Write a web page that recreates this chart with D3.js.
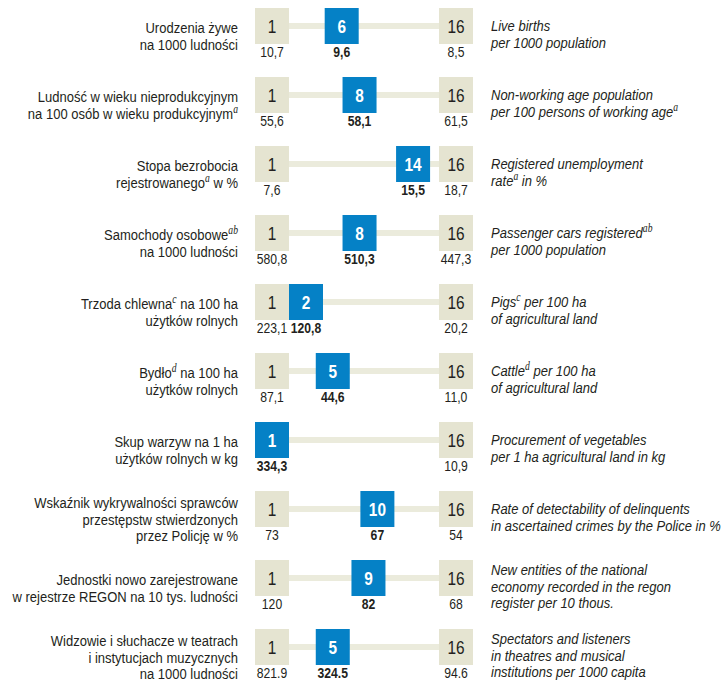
<!DOCTYPE html>
<html>
<head>
<meta charset="utf-8">
<script src="https://cdn.jsdelivr.net/npm/d3@7"></script>
<style>
  html, body { margin: 0; padding: 0; background: #ffffff; }
  svg { display: block; }
</style>
</head>
<body>
<svg id="chart" width="724" height="681"></svg>
<script>
// Indicators: Polish description (left) and English description (right).
// "{x}" marks a superscript footnote letter.
const labelsPL = [
  ["Urodzenia żywe", "na 1000 ludności"],
  ["Ludność w wieku nieprodukcyjnym", "na 100 osób w wieku produkcyjnym{a}"],
  ["Stopa bezrobocia", "rejestrowanego{a} w %"],
  ["Samochody osobowe{ab}", "na 1000 ludności"],
  ["Trzoda chlewna{c} na 100 ha", "użytków rolnych"],
  ["Bydło{d} na 100 ha", "użytków rolnych"],
  ["Skup warzyw na 1 ha", "użytków rolnych w kg"],
  ["Wskaźnik wykrywalności sprawców", "przestępstw stwierdzonych", "przez Policję w %"],
  ["Jednostki nowo zarejestrowane", "w rejestrze REGON na 10 tys. ludności"],
  ["Widzowie i słuchacze w teatrach", "i instytucjach muzycznych", "na 1000 ludności"]
];
const labelsEN = [
  ["Live births", "per 1000 population"],
  ["Non-working age population", "per 100 persons of working age{a}"],
  ["Registered unemployment", "rate{a} in %"],
  ["Passenger cars registered{ab}", "per 1000 population"],
  ["Pigs{c} per 100 ha", "of agricultural land"],
  ["Cattle{d} per 100 ha", "of agricultural land"],
  ["Procurement of vegetables", "per 1 ha agricultural land in kg"],
  ["Rate of detectability of delinquents", "in ascertained crimes by the Police in %"],
  ["New entities of the national", "economy recorded in the regon", "register per 10 thous."],
  ["Spectators and listeners", "in theatres and musical", "institutions per 1000 capita"]
];

// Rank of the region among the 16 voivodeships
const ranks = [6, 8, 14, 8, 2, 5, 1, 10, 9, 5];
// Value of the voivodeship ranked 1st, of the region, and of the one ranked 16th
const firstValues  = ["10,7", "55,6", "7,6", "580,8", "223,1", "87,1", "334,3", "73", "120", "821.9"];
const regionValues = ["9,6", "58,1", "15,5", "510,3", "120,8", "44,6", "334,3", "67", "82", "324.5"];
const lastValues   = ["8,5", "61,5", "18,7", "447,3", "20,2", "11,0", "10,9", "54", "68", "94.6"];
const rankEnds = [1, 16];

const svg = d3.select("#chart");
const FONT = "'Liberation Sans', Arial, sans-serif";
const NARROW = 0.84;          // horizontal squeeze giving a condensed face
const TXT = "#231f20";
const BLUE = "#0581c6";
const GREY = "#e5e4d1";
const TRACK = "#ebebdc";

const boxW = 34, boxH = 36;
const rowTop = d3.scaleLinear().domain([0, labelsPL.length - 1]).range([8, 629]);
// Ends sit at fixed slots, intermediate ranks share the space between them
const rankX = d3.scaleLinear().domain([1, 2, 15, 16]).range([272, 306, 422, 456]);

// Condensed text placed at (x, y)
function ctext(sel, x, y, size, sx) {
  return sel.append("text")
    .attr("transform", `translate(${x},${y}) scale(${sx || NARROW},1)`)
    .attr("font-family", FONT)
    .attr("font-size", size)
    .attr("fill", TXT);
}

function writeLine(sel, str, x, y, anchor, italic) {
  const t = ctext(sel, x, y, 15.5)
    .attr("text-anchor", anchor)
    .attr("font-style", italic ? "italic" : "normal");
  const parts = str.split(/(\{[a-z]+\})/).filter(s => s.length);
  let shifted = false;
  parts.forEach(p => {
    const m = p.match(/^\{([a-z]+)\}$/);
    if (m) {
      t.append("tspan")
        .attr("dy", -6)
        .attr("font-family", "'Liberation Serif', serif")
        .attr("font-style", "italic")
        .attr("font-size", 11.5)
        .text(m[1]);
      shifted = true;
    } else {
      const s = t.append("tspan").text(p);
      if (shifted) { s.attr("dy", 6); shifted = false; }
    }
  });
}

const rows = svg.selectAll("g.row")
  .data(ranks.map((r, i) => ({ i, r })))
  .join("g")
  .attr("class", "row")
  .attr("transform", d => `translate(0,${rowTop(d.i)})`);

// Track between the 1st and 16th positions
rows.append("rect")
  .attr("x", rankX(1))
  .attr("y", boxH / 2 - 3)
  .attr("width", rankX(16) - rankX(1))
  .attr("height", 6)
  .attr("fill", TRACK);

// End boxes (ranks 1 and 16)
rankEnds.forEach(rk => {
  rows.append("rect")
    .attr("x", rankX(rk) - boxW / 2)
    .attr("y", 0)
    .attr("width", boxW)
    .attr("height", boxH)
    .attr("fill", GREY);
  rows.each(function () {
    ctext(d3.select(this), rankX(rk), boxH / 2 + 6.5, 17.5, 0.88)
      .attr("text-anchor", "middle")
      .text(rk);
  });
});

// Region box
rows.append("rect")
  .attr("x", d => rankX(d.r) - boxW / 2)
  .attr("y", 0)
  .attr("width", boxW)
  .attr("height", boxH)
  .attr("fill", BLUE);

const valY = boxH + 13;
rows.each(function (d) {
  const g = d3.select(this);
  ctext(g, rankX(d.r), boxH / 2 + 6.5, 17.5, 0.88)
    .attr("text-anchor", "middle")
    .attr("font-weight", "bold")
    .attr("fill", "#ffffff")
    .text(d.r);

  // Values under boxes
  if (d.r !== 1) {
    ctext(g, rankX(1), valY, 14.5).attr("text-anchor", "middle").text(firstValues[d.i]);
  }
  if (d.r !== 16) {
    ctext(g, rankX(16), valY, 14.5).attr("text-anchor", "middle").text(lastValues[d.i]);
  }
  ctext(g, rankX(d.r), valY, 14.5)
    .attr("text-anchor", "middle")
    .attr("font-weight", "bold")
    .text(regionValues[d.i]);

  // Descriptions
  const lineH = 16.5;
  const pl = labelsPL[d.i], en = labelsEN[d.i];
  const y0L = boxH / 2 + 7 - (pl.length - 2) * 8;
  pl.forEach((s, k) => writeLine(g, s, 238, y0L + k * lineH, "end", false));
  const y0R = boxH / 2 + 5 - (en.length - 2) * 8;
  en.forEach((s, k) => writeLine(g, s, 491, y0R + k * lineH, "start", true));
});
</script>
</body>
</html>
